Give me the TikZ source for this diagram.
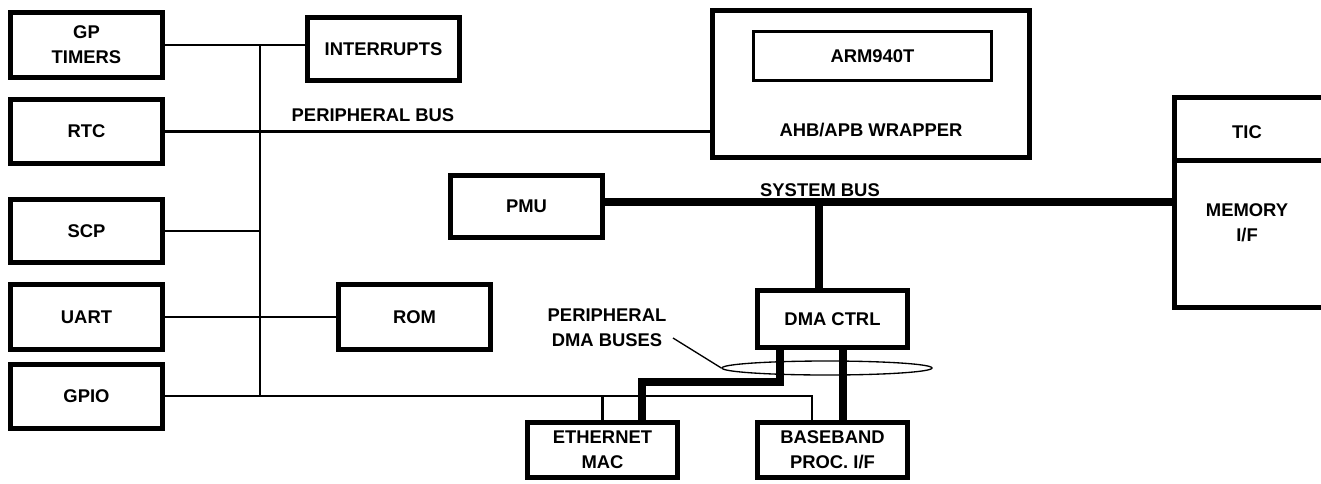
\documentclass[tikz,border=0pt]{standalone}
\usepackage{fontspec}
\setmainfont{Liberation Sans}
\usetikzlibrary{shapes.geometric}
\begin{document}
\begin{tikzpicture}[x=0.75pt,y=-0.75pt,
  txt/.style={font=\bfseries\fontsize{13.8}{18.75}\selectfont, align=center, inner sep=0pt},
  blk/.style 2 args={txt, draw, line width=3.75pt, minimum width=#1*0.75pt, minimum height=#2*0.75pt},
  thinbus/.style={line width=2pt},
  thickbus/.style={line width=6pt},
  outline/.style={line width=3.75pt}]
\useasboundingbox (0,0) rectangle (1321,483);
% left column
\node[blk={152}{65}] (gpt) at (86.5,45) {GP\\TIMERS};
\node[blk={152}{64}] (rtc) at (86.5,131.5) {RTC};
\node[blk={152}{63}] (scp) at (86.5,231) {SCP};
\node[blk={152}{65}] (uart) at (86.5,317) {UART};
\node[blk={152}{64}] (gpio) at (86.5,396.5) {GPIO};
\node[blk={152}{63}] (intr) at (383.5,49) {INTERRUPTS};
\node[blk={152}{65}] (rom) at (414.5,317) {ROM};
% wrapper
\node[blk={317}{147}] (wrap) at (871,84) {};
\node[txt, draw, line width=2.25pt, minimum width=238*0.75pt, minimum height=49*0.75pt] (arm) at (872.5,56) {ARM940T};
\node[txt] (wraptxt) at (871,130) {AHB/APB WRAPPER};
% others
\node[blk={152}{62}] (pmu) at (526.5,206.5) {PMU};
\node[blk={150}{57}] (dma) at (832.5,319) {DMA CTRL};
\node[blk={150}{55}] (eth) at (602.5,450) {ETHERNET\\MAC};
\node[blk={150}{55}] (bb) at (832.5,450) {BASEBAND\\PROC. I/F};
% TIC / memory (open on the right)
\coordinate (memtl) at (1174.5,97.5);
\coordinate (memdiv) at (1174.5,160);
\coordinate (membl) at (1174.5,307.5);
\draw[outline] (1330,97.5) -- (memtl) -- (membl) -- (1330,307.5);
\draw[outline] (memdiv) -- (1330,160);
\node[txt] (tic) at (1247,132) {TIC};
\node[txt] (mem) at (1247,223) {MEMORY\\I/F};
% bus labels
\node[txt] (pbus) at (373,115) {PERIPHERAL BUS};
\node[txt] (sbus) at (820,190) {SYSTEM BUS};
\node[txt] (pdma) at (607,328) {PERIPHERAL\\DMA BUSES};
% ellipse and leader (behind the buses)
\node[draw, line width=1pt, ellipse, minimum width=210*0.75pt, minimum height=14*0.75pt, inner sep=0pt] (ell) at (827,368) {};
\coordinate (lead) at (673,338);
\draw[line width=1pt] (lead) -- (ell.west);
% peripheral bus
\coordinate (vtop) at (260,45);
\coordinate (vbot) at (260,396);
\draw[thinbus] (vtop) -- (vbot);
\draw[thinbus] (gpt.east |- vtop) -- (intr.west |- vtop);
\draw[thinbus] (rtc.east) -- (rtc.east -| wrap.west);
\draw[thinbus] (scp.east) -- (scp.east -| vtop);
\draw[thinbus] (uart.east) -- (rom.west);
\coordinate (bbtap) at (812,396);
\draw[thinbus] (gpio.east |- vbot) -- (bbtap) -- (bbtap |- bb.north);
\draw[thinbus] (eth.north) -- (eth.north |- vbot);
% system bus
\coordinate (sbl) at (605,202);
\coordinate (sbj) at (819,202);
\draw[thickbus] (pmu.east |- sbl) -- (memtl |- sbl);
\draw[thickbus] (sbj) -- (sbj |- dma.north);
% DMA buses
\coordinate (d1) at (780,382);
\coordinate (d2) at (642,382);
\draw[thickbus] (d1 |- dma.south) -- (d1) -- (d2) -- (d2 |- eth.north);
\coordinate (d3) at (843,350);
\draw[thickbus] (d3 |- dma.south) -- (d3 |- bb.north);
\end{tikzpicture}
\end{document}
